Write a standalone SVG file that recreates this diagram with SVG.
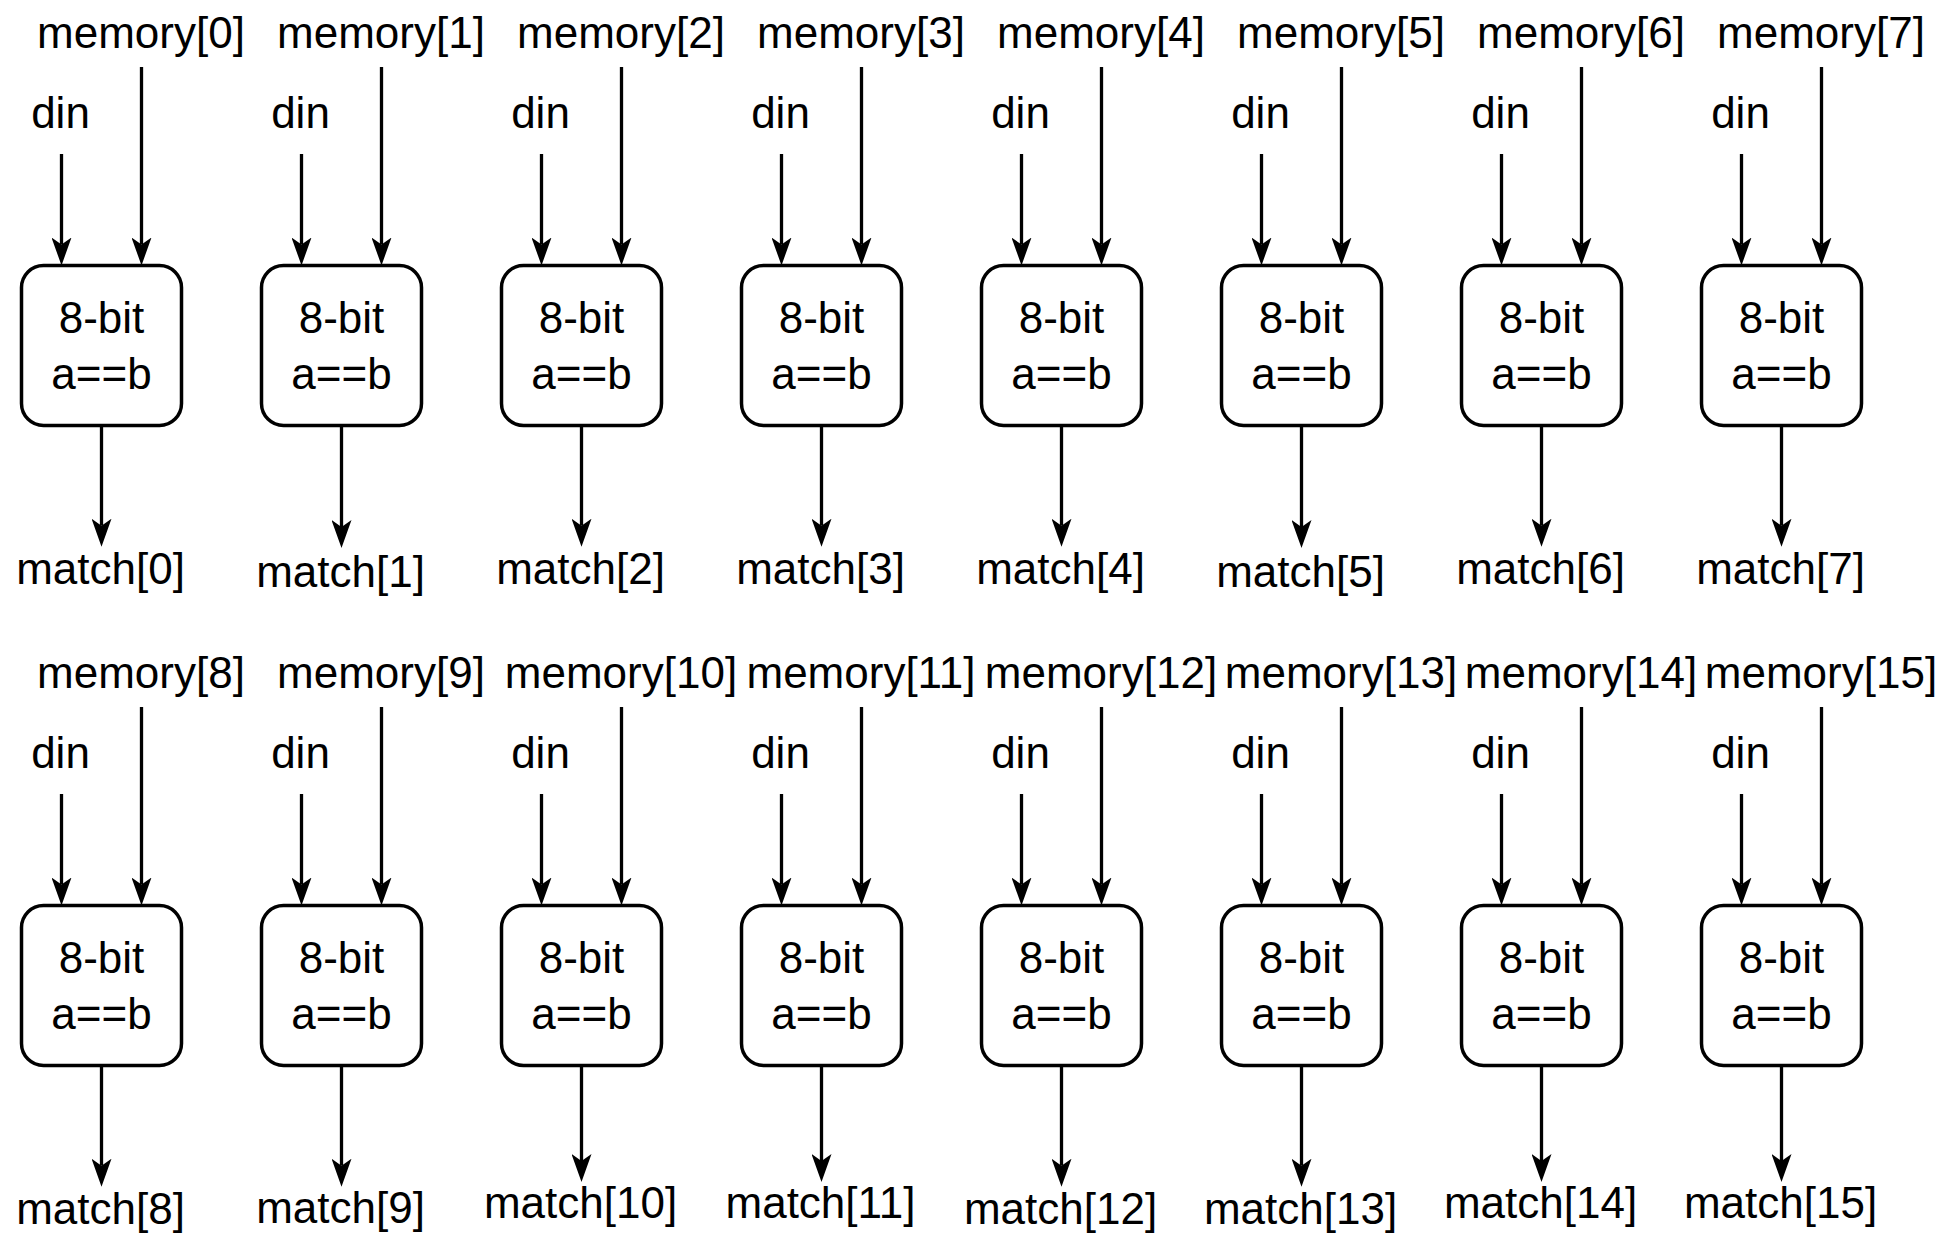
<svg xmlns="http://www.w3.org/2000/svg" width="1940" height="1236" viewBox="0 0 1940 1236">
<style>
text{font-family:"Liberation Sans",Arial,Helvetica,sans-serif;font-size:44px;fill:#000;text-anchor:middle}
.box{fill:#fff;stroke:#000;stroke-width:3.5}
.wire{fill:none;stroke:#000;stroke-width:3.3;marker-end:url(#ah)}
</style>
<defs>
<marker id="ah" viewBox="0 0 28 20" markerWidth="28" markerHeight="20" markerUnits="userSpaceOnUse" refX="7" refY="10" orient="auto">
<path d="M0,0 L28,10 L0,20 L7,10 Z" fill="#000"/>
</marker>
<g id="cmpbox">
<rect class="box" x="0" y="0" width="160" height="160" rx="22" ry="22"/>
</g>
</defs>
<rect width="1940" height="1236" fill="#fff"/>
<g id="connectors">
<path class="wire" d="M61.5,154V244.5"/><path class="wire" d="M141.5,67V244.5"/><path class="wire" d="M101.5,425.5V525.7"/>
<path class="wire" d="M301.5,154V244.5"/><path class="wire" d="M381.5,67V244.5"/><path class="wire" d="M341.5,425.5V527"/>
<path class="wire" d="M541.5,154V244.5"/><path class="wire" d="M621.5,67V244.5"/><path class="wire" d="M581.5,425.5V525.7"/>
<path class="wire" d="M781.5,154V244.5"/><path class="wire" d="M861.5,67V244.5"/><path class="wire" d="M821.5,425.5V525.7"/>
<path class="wire" d="M1021.5,154V244.5"/><path class="wire" d="M1101.5,67V244.5"/><path class="wire" d="M1061.5,425.5V525.7"/>
<path class="wire" d="M1261.5,154V244.5"/><path class="wire" d="M1341.5,67V244.5"/><path class="wire" d="M1301.5,425.5V527"/>
<path class="wire" d="M1501.5,154V244.5"/><path class="wire" d="M1581.5,67V244.5"/><path class="wire" d="M1541.5,425.5V525.7"/>
<path class="wire" d="M1741.5,154V244.5"/><path class="wire" d="M1821.5,67V244.5"/><path class="wire" d="M1781.5,425.5V525.7"/>
<path class="wire" d="M61.5,794V884.5"/><path class="wire" d="M141.5,707V884.5"/><path class="wire" d="M101.5,1065.5V1165.7"/>
<path class="wire" d="M301.5,794V884.5"/><path class="wire" d="M381.5,707V884.5"/><path class="wire" d="M341.5,1065.5V1165.7"/>
<path class="wire" d="M541.5,794V884.5"/><path class="wire" d="M621.5,707V884.5"/><path class="wire" d="M581.5,1065.5V1161"/>
<path class="wire" d="M781.5,794V884.5"/><path class="wire" d="M861.5,707V884.5"/><path class="wire" d="M821.5,1065.5V1161"/>
<path class="wire" d="M1021.5,794V884.5"/><path class="wire" d="M1101.5,707V884.5"/><path class="wire" d="M1061.5,1065.5V1165.7"/>
<path class="wire" d="M1261.5,794V884.5"/><path class="wire" d="M1341.5,707V884.5"/><path class="wire" d="M1301.5,1065.5V1165.7"/>
<path class="wire" d="M1501.5,794V884.5"/><path class="wire" d="M1581.5,707V884.5"/><path class="wire" d="M1541.5,1065.5V1161"/>
<path class="wire" d="M1741.5,794V884.5"/><path class="wire" d="M1821.5,707V884.5"/><path class="wire" d="M1781.5,1065.5V1161"/>
</g>
<g id="cmp0"><use href="#cmpbox" x="21.5" y="265.5"/><text x="101.5" y="333">8-bit</text><text x="101.5" y="389">a==b</text></g>
<g id="cmp1"><use href="#cmpbox" x="261.5" y="265.5"/><text x="341.5" y="333">8-bit</text><text x="341.5" y="389">a==b</text></g>
<g id="cmp2"><use href="#cmpbox" x="501.5" y="265.5"/><text x="581.5" y="333">8-bit</text><text x="581.5" y="389">a==b</text></g>
<g id="cmp3"><use href="#cmpbox" x="741.5" y="265.5"/><text x="821.5" y="333">8-bit</text><text x="821.5" y="389">a==b</text></g>
<g id="cmp4"><use href="#cmpbox" x="981.5" y="265.5"/><text x="1061.5" y="333">8-bit</text><text x="1061.5" y="389">a==b</text></g>
<g id="cmp5"><use href="#cmpbox" x="1221.5" y="265.5"/><text x="1301.5" y="333">8-bit</text><text x="1301.5" y="389">a==b</text></g>
<g id="cmp6"><use href="#cmpbox" x="1461.5" y="265.5"/><text x="1541.5" y="333">8-bit</text><text x="1541.5" y="389">a==b</text></g>
<g id="cmp7"><use href="#cmpbox" x="1701.5" y="265.5"/><text x="1781.5" y="333">8-bit</text><text x="1781.5" y="389">a==b</text></g>
<g id="cmp8"><use href="#cmpbox" x="21.5" y="905.5"/><text x="101.5" y="973">8-bit</text><text x="101.5" y="1029">a==b</text></g>
<g id="cmp9"><use href="#cmpbox" x="261.5" y="905.5"/><text x="341.5" y="973">8-bit</text><text x="341.5" y="1029">a==b</text></g>
<g id="cmp10"><use href="#cmpbox" x="501.5" y="905.5"/><text x="581.5" y="973">8-bit</text><text x="581.5" y="1029">a==b</text></g>
<g id="cmp11"><use href="#cmpbox" x="741.5" y="905.5"/><text x="821.5" y="973">8-bit</text><text x="821.5" y="1029">a==b</text></g>
<g id="cmp12"><use href="#cmpbox" x="981.5" y="905.5"/><text x="1061.5" y="973">8-bit</text><text x="1061.5" y="1029">a==b</text></g>
<g id="cmp13"><use href="#cmpbox" x="1221.5" y="905.5"/><text x="1301.5" y="973">8-bit</text><text x="1301.5" y="1029">a==b</text></g>
<g id="cmp14"><use href="#cmpbox" x="1461.5" y="905.5"/><text x="1541.5" y="973">8-bit</text><text x="1541.5" y="1029">a==b</text></g>
<g id="cmp15"><use href="#cmpbox" x="1701.5" y="905.5"/><text x="1781.5" y="973">8-bit</text><text x="1781.5" y="1029">a==b</text></g>
<g id="labels-memory">
<text x="141" y="48">memory[0]</text><text x="381" y="48">memory[1]</text><text x="621" y="48">memory[2]</text><text x="861" y="48">memory[3]</text>
<text x="1101" y="48">memory[4]</text><text x="1341" y="48">memory[5]</text><text x="1581" y="48">memory[6]</text><text x="1821" y="48">memory[7]</text>
<text x="141" y="688">memory[8]</text><text x="381" y="688">memory[9]</text><text x="621" y="688">memory[10]</text><text x="861" y="688">memory[11]</text>
<text x="1101" y="688">memory[12]</text><text x="1341" y="688">memory[13]</text><text x="1581" y="688">memory[14]</text><text x="1821" y="688">memory[15]</text>
</g>
<g id="labels-din">
<text x="60.5" y="128">din</text><text x="300.5" y="128">din</text><text x="540.5" y="128">din</text><text x="780.5" y="128">din</text>
<text x="1020.5" y="128">din</text><text x="1260.5" y="128">din</text><text x="1500.5" y="128">din</text><text x="1740.5" y="128">din</text>
<text x="60.5" y="768">din</text><text x="300.5" y="768">din</text><text x="540.5" y="768">din</text><text x="780.5" y="768">din</text>
<text x="1020.5" y="768">din</text><text x="1260.5" y="768">din</text><text x="1500.5" y="768">din</text><text x="1740.5" y="768">din</text>
</g>
<g id="labels-match">
<text x="100.5" y="584">match[0]</text><text x="340.5" y="587">match[1]</text><text x="580.5" y="584">match[2]</text><text x="820.5" y="584">match[3]</text>
<text x="1060.5" y="584">match[4]</text><text x="1300.5" y="587">match[5]</text><text x="1540.5" y="584">match[6]</text><text x="1780.5" y="584">match[7]</text>
<text x="100.5" y="1224">match[8]</text><text x="340.5" y="1223">match[9]</text><text x="580.5" y="1218">match[10]</text><text x="820.5" y="1218">match[11]</text>
<text x="1060.5" y="1224">match[12]</text><text x="1300.5" y="1224">match[13]</text><text x="1540.5" y="1218">match[14]</text><text x="1780.5" y="1218">match[15]</text>
</g>
</svg>
